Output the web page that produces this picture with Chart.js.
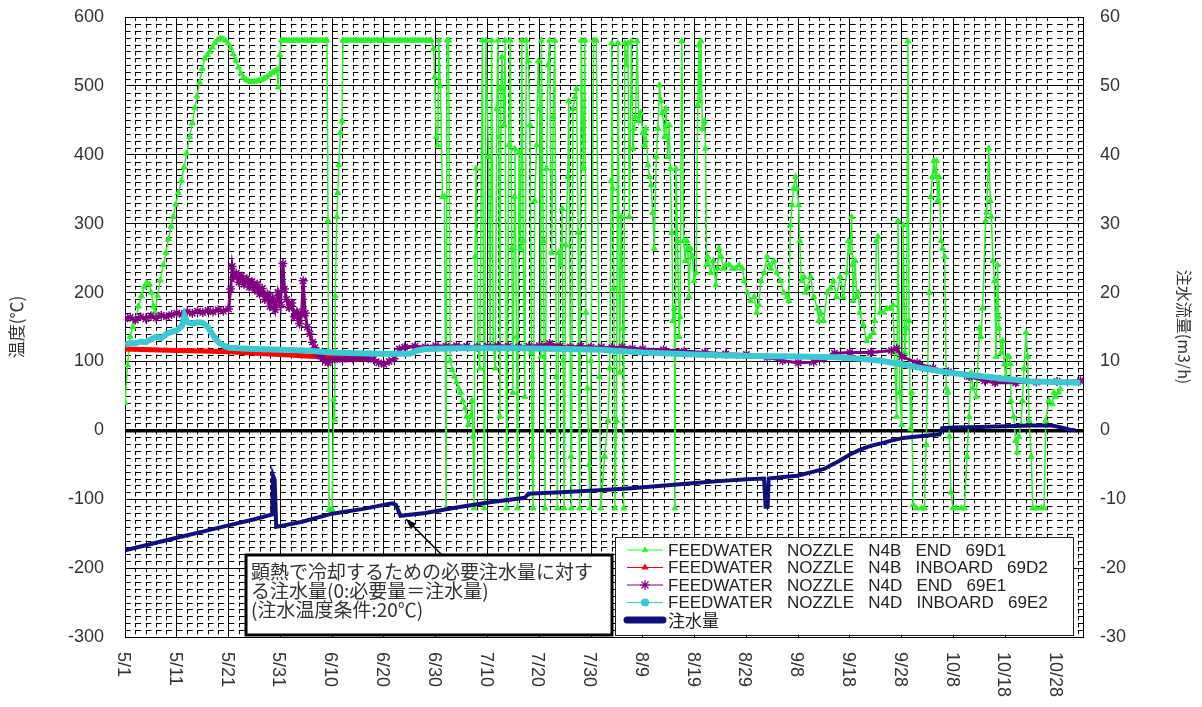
<!DOCTYPE html>
<html>
<head>
<meta charset="utf-8">
<script src="https://cdn.jsdelivr.net/npm/chart.js@4.4.1/dist/chart.umd.min.js"></script>
<style>
  html, body { margin: 0; padding: 0; background: #fff; }
  #wrap { width: 1202px; height: 707px; }
</style>
</head>
<body>
<div id="wrap"><canvas id="nozzleChart" width="1202" height="707"></canvas></div>
<script>
// x = days since 5/1
const dateLabels = ['5/1', '5/11', '5/21', '5/31', '6/10', '6/20', '6/30', '7/10', '7/20', '7/30',
  '8/9', '8/19', '8/29', '9/8', '9/18', '9/28', '10/8', '10/18', '10/28'];

// FEEDWATER NOZZLE N4B END 69D1 (℃)
const days69D1 = [
  0, 0.5, 1, 1.5, 2, 2.6, 3.2, 3.7, 4.2, 4.7,
  5.1, 5.5, 5.8, 6.3, 6.8, 7.4, 7.9, 8.4, 8.9, 9.3,
  9.8, 10.3, 10.9, 11.4, 11.9, 12.5, 13, 13.5, 13.9, 14.4,
  14.9, 15.4, 15.9, 16.4, 16.9, 17.4, 17.9, 18.4, 18.9, 19.4,
  19.9, 20.4, 20.9, 21.4, 21.9, 22.4, 22.9, 23.4, 23.9, 24.4,
  24.9, 25.4, 25.9, 26.4, 26.9, 27.4, 27.9, 28.4, 28.9, 29.3,
  29.6, 29.9, 30.2, 30.7, 31.2, 31.7, 32.2, 32.7, 33.2, 33.7,
  34.2, 34.7, 35.2, 35.7, 36.2, 36.7, 37.2, 37.7, 38.2, 38.7,
  39, 39.2, 39.4, 39.7, 40, 40.3, 40.5, 40.6, 40.9, 41.1,
  41.3, 41.6, 41.9, 42.1, 42.6, 43.1, 43.6, 44.1, 44.6, 45.1,
  45.6, 46.1, 46.6, 47.1, 47.6, 48.1, 48.6, 49.1, 49.6, 50.1,
  50.6, 51.1, 51.6, 52.1, 52.6, 53.1, 53.6, 54.1, 54.6, 55.1,
  55.6, 56.1, 56.6, 57.1, 57.6, 58.1, 58.6, 59.1, 59.6, 59.8,
  60.1, 60.4, 60.6, 60.9, 61.3, 61.7, 62, 62.2, 62.5, 62.8,
  63.2, 63.6, 64, 64.4, 64.8, 65.2, 65.7, 66, 66.3, 66.7,
  67, 67.2, 67.4, 67.6, 67.8, 68.2, 68.5, 69, 69.4, 69.7,
  70.2, 70.5, 70.8, 71.1, 71.5, 71.8, 72, 72.2, 72.4, 72.6,
  72.8, 73.2, 73.4, 73.7, 74.1, 74.4, 74.7, 74.9, 75.2, 75.3,
  75.6, 75.8, 76.1, 76.4, 76.6, 76.9, 77.2, 77.5, 77.9, 78.2,
  78.5, 78.6, 78.8, 79.1, 79.5, 79.8, 80.1, 80.3, 80.4, 80.8,
  81.1, 81.4, 81.7, 82, 82.4, 82.7, 83, 83.3, 83.5, 83.8,
  84.1, 84.4, 84.6, 84.8, 85.1, 85.5, 85.7, 86.1, 86.2, 86.5,
  86.9, 87.2, 87.5, 87.6, 87.8, 88.1, 88.5, 88.8, 89, 89.3,
  89.6, 89.8, 90, 90.5, 91, 91.6, 91.9, 92.6, 93.3, 93.6,
  93.9, 94, 94.2, 94.4, 94.6, 94.9, 95.2, 95.5, 95.8, 96.2,
  96.3, 96.5, 96.8, 97.1, 97.4, 97.8, 98.1, 98.3, 98.6, 98.9,
  99.2, 99.6, 100, 100.3, 100.6, 101, 101.3, 101.6, 101.9, 102.2,
  102.6, 102.9, 103.2, 103.5, 103.8, 104.2, 104.5, 104.8, 105.1, 105.3,
  105.6, 105.8, 106.1, 106.2, 106.4, 106.7, 107, 107.2, 107.5, 107.9,
  108.2, 108.5, 108.7, 108.9, 109.2, 109.6, 109.9, 110.3, 110.6, 110.8,
  111, 111.2, 111.5, 111.9, 112.1, 112.3, 112.5, 113.1, 113.6, 114.1,
  114.4, 114.7, 115.1, 115.6, 116, 116.7, 117.3, 117.9, 118.6, 119.2,
  119.6, 120.2, 120.8, 121.5, 122, 122.4, 122.8, 123.4, 124, 124.4,
  124.7, 125.3, 125.9, 126.6, 127.2, 127.9, 128.2, 128.5, 128.8, 129.1,
  129.5, 129.8, 130.1, 130.3, 130.6, 131.1, 131.4, 131.7, 132.4, 133,
  133.7, 134, 134.3, 134.9, 135.6, 136.2, 136.8, 137.4, 138.1, 138.7,
  139.4, 139.7, 140, 140.3, 140.5, 140.6, 141, 141.3, 141.6, 141.9,
  142.6, 143.2, 143.8, 144.5, 144.8, 145.1, 145.4, 145.8, 146.4, 147.1,
  147.7, 148.3, 148.6, 149, 149.3, 149.6, 150, 150.3, 150.6, 150.9,
  151.2, 151.4, 151.7, 151.9, 152.2, 152.8, 153.8, 154.4, 154.7, 155.3,
  155.6, 155.9, 156.2, 156.4, 156.7, 156.9, 157.2, 157.6, 157.9, 158.3,
  158.6, 158.9, 159.2, 159.5, 159.9, 160.5, 161.5, 162.1, 162.6, 163,
  163.4, 163.8, 164.4, 165, 165.3, 165.6, 166.2, 166.4, 166.8, 167.1,
  167.3, 167.6, 167.9, 168.2, 168.5, 168.7, 168.8, 169.2, 169.5, 169.8,
  170.1, 170.4, 170.7, 171, 171.1, 171.6, 172, 172.3, 172.6, 173,
  173.3, 173.6, 174, 174.3, 174.6, 175, 175.3, 175.9, 176.9, 177.5,
  177.8, 178.4, 179.1, 179.4, 179.7, 180.3, 180.6
];
const temp69D1 = [
  40, 95, 136, 150, 160, 180, 195, 208, 214, 212,
  200, 180, 172, 195, 218, 240, 258, 278, 296, 310,
  328, 345, 362, 382, 402, 426, 446, 468, 485, 505,
  525, 540, 545, 550, 556, 563, 567, 569, 568, 566,
  562, 555, 546, 537, 527, 518, 512, 509, 507, 506,
  506, 507, 508, 509, 511, 513, 516, 519, 521, 524,
  498, 545, 566, 566, 566, 566, 566, 566, 566, 566,
  566, 566, 566, 566, 566, 566, 566, 566, 566, 566,
  566, 304, -115, -115, -115, 45, 15, 195, 310, 345,
  385, 432, 449, 566, 566, 566, 566, 566, 566, 566,
  566, 566, 566, 566, 566, 566, 566, 566, 566, 566,
  566, 566, 566, 566, 566, 566, 566, 566, 566, 566,
  566, 566, 566, 566, 566, 566, 566, 566, 554, 513,
  426, 414, 566, 500, 339, 339, -113, 566, 566, 101,
  88, 78, 70, 61, 55, 43, 32, 20, 8, 20,
  43, -9, -113, 252, 380, 124, 90, 566, -113, 566,
  397, 119, 566, 124, 90, 467, 566, 426, 20, 496,
  542, 443, 566, -113, 414, 566, 264, 55, 339, 409,
  136, -113, 403, 264, 566, 275, 49, 566, 536, 443,
  113, -38, -113, 333, 414, 536, 467, 107, 566, 275,
  -113, 380, 530, 566, 258, 455, 566, 78, -113, 258,
  240, 322, 101, -113, 269, 368, 478, -38, -113, 467,
  484, 496, 287, 124, -113, 566, 380, 566, 171, 61,
  -50, -113, 101, 566, 566, 78, -113, -38, 14, 90,
  362, 562, 351, 206, -113, 14, 562, 84, 310, 148,
  -113, 562, 530, 562, 310, 565, 409, 438, 455, 565,
  449, 461, 432, 414, 438, 385, 368, 356, 316, 264,
  397, 438, 501, 478, 461, 426, 467, 397, 443, 380,
  287, 159, 177, -113, 380, 275, 136, 165, 565, 275,
  246, 275, 264, 194, 264, 252, 217, 229, 472, 559,
  478, 565, 438, 449, 409, 240, 252, 229, 246, 211,
  235, 264, 252, 235, 240, 240, 235, 235, 240, 235,
  217, 200, 188, 194, 171, 182, 217, 229, 252, 240,
  235, 246, 229, 217, 200, 194, 188, 298, 327, 351,
  368, 351, 327, 275, 217, 223, 200, 206, 223, 194,
  177, 159, 171, 159, 200, 206, 217, 194, 223, 194,
  229, 275, 258, 310, 240, 188, 246, 194, 200, 171,
  153, 130, 136, 142, 159, 275, 281, 171, 171, 177,
  177, 182, 113, 20, 304, 55, 8, 298, 113, 148,
  565, 159, 2, 55, -108, -113, -113, -113, -21, 200,
  339, 368, 391, 368, 391, 333, 368, 275, 264, 252,
  61, 55, -9, -90, -113, -113, -113, -113, -38, 20,
  84, 61, 49, 148, 136, 177, 304, 316, 409, 333,
  310, 246, 217, 107, 240, 165, 148, 113, 130, 96,
  78, 107, 107, 96, 43, 20, -15, -32, -9, 8,
  43, 90, 142, 107, 14, -38, -113, -113, -113, -113,
  14, 43, 38, 55, 49, 55, 60
];

// FEEDWATER NOZZLE N4B INBOARD 69D2 (℃)
const days69D2 = [0, 5, 10, 15, 20, 25, 30, 35, 40, 44, 47];
const temp69D2 = [118, 117, 116, 115, 114, 112, 110, 108, 106, 104, 104];

// FEEDWATER NOZZLE N4D END 69E1 (℃)
const days69E1 = [
  0, 1, 2, 3, 4, 5, 6, 7, 8, 9,
  10, 11, 12, 13, 14, 15, 16, 17, 18, 19,
  20, 20.4, 20.7, 21, 21.5, 22, 22.5, 23, 23.5, 24,
  24.5, 25, 25.5, 26, 26.5, 27, 27.5, 28, 28.5, 29,
  29.5, 30, 30.5, 30.8, 31.2, 31.7, 32.2, 32.7, 33.2, 33.7,
  34.1, 34.4, 34.8, 35.2, 35.7, 36.2, 36.7, 37.2, 37.7, 38.2,
  38.7, 39.2, 40, 41, 42, 43, 44, 45, 46, 47,
  48, 49, 50, 51, 52, 53, 54, 56, 58, 60,
  62, 64, 66, 68, 70, 72, 74, 76, 78, 80,
  82, 84, 86, 88, 90, 92, 94, 96, 98, 100,
  104, 108, 112, 116, 120, 124, 127, 130, 133, 135,
  137, 140, 144, 148, 149, 150, 153, 156, 159, 163,
  166, 168, 172, 176, 180, 184.5
];
const temp69E1 = [
  162, 164, 160, 165, 162, 166, 163, 167, 165, 168,
  170, 168, 172, 170, 173, 171, 174, 172, 175, 173,
  176, 205, 238, 222, 228, 215, 224, 212, 220, 208,
  216, 204, 212, 198, 206, 190, 198, 180, 192, 175,
  200, 182, 242, 205, 190, 178, 185, 165, 172, 155,
  168, 217, 170, 150, 140, 128, 120, 112, 108, 104,
  101, 98, 102, 104, 103, 105, 104, 106, 105, 104,
  103, 98, 96, 100, 104, 118, 121, 122, 121, 123,
  122, 123, 122, 121, 122, 123, 122, 121, 122, 123,
  126, 122, 121, 122, 121, 121, 120, 121, 119, 118,
  117, 115, 113, 111, 110, 106, 101, 98, 99, 104,
  112, 113, 113, 116, 119, 107, 98, 90, 85, 78,
  72, 69, 69, 70, 71, 72
];

// FEEDWATER NOZZLE N4D INBOARD 69E2 (℃)
const days69E2 = [
  0, 1, 2, 3, 4, 5, 6, 7, 8, 9,
  10, 11, 11.5, 12, 13, 14, 15, 16, 17, 18,
  19, 20, 22, 25, 30, 35, 40, 45, 50,
  55, 56.5, 58, 65, 75, 85, 92, 100, 110, 120,
  130, 137, 142, 146, 150, 154, 158, 162, 166, 170,
  175, 180, 184.5
];
const temp69E2 = [
  124, 127, 126, 129, 128, 132, 136, 134, 140, 143,
  145, 152, 166, 157, 155, 157, 156, 150, 138, 128,
  123, 120, 119, 118, 117, 116, 113, 112, 111,
  111, 116, 118, 119, 119, 118, 117, 113, 110, 108,
  107, 106, 104, 101, 96, 90, 85, 81, 78, 75,
  71, 70, 69
];

// 注水量 (m3/h, right axis)
const daysFlow = [
  0, 5, 10, 15, 20, 25, 28.4, 28.6, 28.9, 29.2,
  30, 34, 40, 46, 51.6, 52.3, 53.2, 58, 64, 70.8,
  77.2, 77.9, 84, 91.5, 97.8, 104.2, 110.6, 116, 120.2, 123.4,
  123.7, 124.1, 124.3, 126.6, 129.8, 133, 135, 136.5, 138, 140,
  142, 143.8, 146, 148, 150.3, 153, 155.5, 157.3, 157.8, 160,
  165, 170, 175, 179, 181, 182.5, 183.5
];
const flowRate = [
  -17.4, -16.5, -15.6, -14.7, -13.8, -12.9, -12.2, -6.6, -7.2, -14.0,
  -13.9, -13.3, -12.1, -11.4, -10.6, -10.8, -12.4, -12.0, -11.2, -10.4,
  -9.8, -9.2, -9.0, -8.7, -8.4, -8.0, -7.6, -7.3, -7.1, -7.0,
  -11.1, -11.1, -7.0, -6.8, -6.6, -6.0, -5.6, -5.0, -4.4, -3.5,
  -2.8, -2.3, -1.9, -1.5, -1.1, -0.9, -0.7, -0.6, 0.3, 0.4,
  0.5, 0.6, 0.7, 0.7, 0.4, 0.1, 0
];

const noteLines = [
  '顕熱で冷却するための必要注水量に対す',
  'る注水量(0:必要量＝注水量)',
  '(注水温度条件:20℃)'
];

const toPoints = (xs, ys) => xs.map((d, i) => ({ x: d, y: ys[i] }));

const FONT = '"Liberation Sans", "Noto Sans CJK JP", sans-serif';
const CJK = '"Noto Sans CJK JP", "Liberation Sans", sans-serif';
Chart.defaults.font.family = FONT;

// keep the tick padding from pushing the plot area down
const fixVertical = (width) => (s) => {
  s.width = width;
  s.paddingTop = 0;
  s.paddingBottom = 0;
};

// dashed minor grid (every 2 days / every 10℃)
const minorGrid = {
  id: 'minorGrid',
  beforeDatasetsDraw(chart) {
    const { ctx, chartArea: a, scales: { x, y } } = chart;
    ctx.save();
    ctx.beginPath();
    ctx.rect(a.left, a.top, a.right - a.left, a.bottom - a.top);
    ctx.clip();
    ctx.strokeStyle = '#000';
    ctx.lineWidth = 1;
    const cell = x.getPixelForValue(2) - x.getPixelForValue(0);
    ctx.setLineDash([cell * 0.55, cell * 0.45]);
    for (let v = -290; v < 600; v += 10) {
      if (v % 100 === 0) continue;
      const py = Math.round(y.getPixelForValue(v)) + 0.5;
      ctx.beginPath();
      ctx.moveTo(a.left, py);
      ctx.lineTo(a.right, py);
      ctx.stroke();
    }
    const row = y.getPixelForValue(0) - y.getPixelForValue(10);
    ctx.setLineDash([row * 0.6, row * 0.4]);
    for (let d = 2; d < 185; d += 2) {
      if (d % 10 === 0) continue;
      const px = Math.round(x.getPixelForValue(d)) + 0.5;
      ctx.beginPath();
      ctx.moveTo(px, a.top);
      ctx.lineTo(px, a.bottom);
      ctx.stroke();
    }
    ctx.restore();
  }
};

// rotated date labels, legend box and note box
const overlays = {
  id: 'overlays',
  afterDraw(chart) {
    const { ctx, chartArea: a, scales: { x, y1 } } = chart;
    ctx.save();

    // date labels, read top to bottom
    ctx.fillStyle = '#333';
    ctx.font = '18px ' + FONT;
    ctx.textAlign = 'left';
    ctx.textBaseline = 'middle';
    dateLabels.forEach((lbl, i) => {
      const px = x.getPixelForValue(i * 10) - 2;
      ctx.save();
      ctx.translate(px, a.bottom + 15);
      ctx.rotate(Math.PI / 2);
      ctx.fillText(lbl, 0, 0);
      ctx.restore();
    });

    // legend
    const lx = 615, ly = 537, lw = 458, lh = 98;
    ctx.fillStyle = '#fff';
    ctx.fillRect(lx, ly, lw, lh);
    ctx.strokeStyle = '#222';
    ctx.lineWidth = 1;
    ctx.strokeRect(lx + 0.5, ly + 0.5, lw, lh);
    chart.data.datasets.forEach((ds, i) => {
      const ry = ly + 13 + i * 17.5;
      ctx.strokeStyle = ds.borderColor;
      ctx.lineWidth = ds.legendLine;
      ctx.lineCap = ds.legendLine > 2 ? 'round' : 'butt';
      ctx.beginPath();
      ctx.moveTo(lx + 12, ry);
      ctx.lineTo(lx + 48, ry);
      ctx.stroke();
      if (ds.legendMarker) {
        ctx.fillStyle = ds.borderColor;
        ctx.lineWidth = 1.2;
        Chart.helpers.drawPoint(ctx, {
          pointStyle: ds.pointStyle, radius: ds.legendMarker, rotation: 0, borderWidth: 1.2
        }, lx + 30, ry);
      }
      ctx.fillStyle = '#222';
      ctx.font = '17px ' + (i === 4 ? CJK : FONT);
      ctx.textAlign = 'left';
      ctx.textBaseline = 'middle';
      ctx.fillText(ds.label, lx + 53, ry + 1);
    });

    // note box with arrow to the flow curve
    const bx = 246, by = 555, bw = 366, bh = 80;
    const tipX = x.getPixelForValue(54.3), tipY = y1.getPixelForValue(-12.9);
    const tailX = 442, tailY = by;
    ctx.strokeStyle = '#000';
    ctx.fillStyle = '#000';
    ctx.lineWidth = 1.5;
    ctx.lineCap = 'butt';
    ctx.beginPath();
    ctx.moveTo(tailX, tailY);
    ctx.lineTo(tipX, tipY);
    ctx.stroke();
    const ang = Math.atan2(tipY - tailY, tipX - tailX);
    ctx.beginPath();
    ctx.moveTo(tipX, tipY);
    ctx.lineTo(tipX - 11 * Math.cos(ang - 0.35), tipY - 11 * Math.sin(ang - 0.35));
    ctx.lineTo(tipX - 11 * Math.cos(ang + 0.35), tipY - 11 * Math.sin(ang + 0.35));
    ctx.closePath();
    ctx.fill();

    ctx.fillStyle = '#fff';
    ctx.fillRect(bx, by, bw, bh);
    ctx.strokeStyle = '#000';
    ctx.lineWidth = 3;
    ctx.strokeRect(bx, by, bw, bh);
    ctx.fillStyle = '#333';
    ctx.font = '19px ' + CJK;
    ctx.textBaseline = 'middle';
    noteLines.forEach((t, i) => ctx.fillText(t, bx + 5, by + 17 + i * 19));

    ctx.restore();
  }
};

new Chart(document.getElementById('nozzleChart'), {
  type: 'line',
  data: {
    datasets: [
      {
        label: 'FEEDWATER   NOZZLE   N4B   END   69D1',
        data: toPoints(days69D1, temp69D1),
        borderColor: '#2cf02c',
        backgroundColor: '#2cf02c',
        borderWidth: 1.5,
        pointStyle: 'triangle',
        pointRadius: 3.4,
        pointBorderWidth: 1,
        legendLine: 1,
        legendMarker: 2.5,
        yAxisID: 'y',
        order: 5
      },
      {
        label: 'FEEDWATER   NOZZLE   N4B   INBOARD   69D2',
        data: toPoints(days69D2, temp69D2),
        borderColor: '#ff0000',
        backgroundColor: '#ff0000',
        borderWidth: 5,
        pointStyle: 'triangle',
        pointRadius: 0,
        legendLine: 1,
        legendMarker: 3,
        yAxisID: 'y',
        order: 4
      },
      {
        label: 'FEEDWATER   NOZZLE   N4D   END   69E1',
        data: toPoints(days69E1, temp69E1),
        borderColor: '#800080',
        backgroundColor: '#800080',
        borderWidth: 3,
        pointStyle: 'star',
        pointRadius: 4.5,
        pointBorderWidth: 1.5,
        legendLine: 1,
        legendMarker: 5,
        yAxisID: 'y',
        order: 3
      },
      {
        label: 'FEEDWATER   NOZZLE   N4D   INBOARD   69E2',
        data: toPoints(days69E2, temp69E2),
        borderColor: '#3cc8d0',
        backgroundColor: '#3cc8d0',
        borderWidth: 6,
        pointStyle: 'circle',
        pointRadius: 0,
        legendLine: 1,
        legendMarker: 3.5,
        yAxisID: 'y',
        order: 2
      },
      {
        label: '注水量',
        data: toPoints(daysFlow, flowRate),
        borderColor: '#10107a',
        backgroundColor: '#10107a',
        borderWidth: 4,
        pointRadius: 0,
        legendLine: 7,
        legendMarker: 0,
        yAxisID: 'y1',
        order: 1
      }
    ]
  },
  options: {
    responsive: false,
    animation: false,
    layout: { padding: { top: 17, left: 0, right: 0, bottom: 0 } },
    plugins: {
      legend: { display: false },
      tooltip: { enabled: false }
    },
    scales: {
      x: {
        type: 'linear',
        min: 0,
        max: 185,
        ticks: { display: false, stepSize: 10 },
        grid: { color: '#000', lineWidth: 1, drawTicks: false },
        border: { color: '#000', width: 1 },
        afterFit: (s) => { s.height = 70; }
      },
      y: {
        position: 'left',
        min: -300,
        max: 600,
        ticks: { stepSize: 100, padding: 21, color: '#333', font: { size: 18 } },
        grid: {
          color: '#000',
          lineWidth: (c) => (c.tick && c.tick.value === 0 ? 3.5 : 1),
          drawTicks: false
        },
        border: { color: '#000', width: 1 },
        title: { display: true, text: '温度(℃)', color: '#333', font: { size: 17, family: CJK }, padding: 6 },
        afterFit: fixVertical(125)
      },
      y1: {
        position: 'right',
        min: -30,
        max: 60,
        ticks: { stepSize: 10, padding: 17, color: '#333', font: { size: 18 } },
        grid: { drawOnChartArea: false, drawTicks: false },
        border: { color: '#000', width: 1 },
        title: { display: true, text: '注水流量(m3/h)', color: '#333', font: { size: 16, family: CJK }, padding: 8 },
        afterFit: fixVertical(119)
      }
    }
  },
  plugins: [minorGrid, overlays]
});
</script>
</body>
</html>
